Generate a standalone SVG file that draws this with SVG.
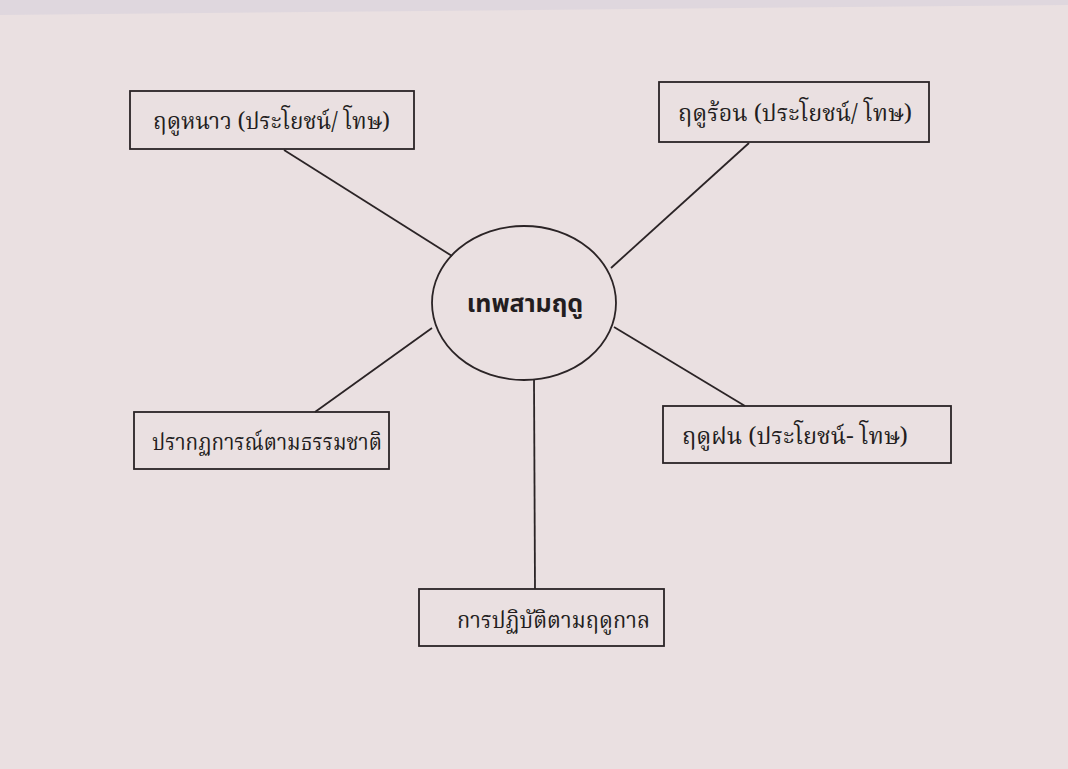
<svg xmlns="http://www.w3.org/2000/svg" width="1068" height="769" viewBox="0 0 1068 769">
<style>
.box{fill:none;stroke:#2b2426;stroke-width:1.8}
.ln{stroke:#2b2426;stroke-width:1.8;fill:none}
.t{font-family:"Noto Serif Thai","Noto Sans Thai","Liberation Serif",serif;font-size:23px;fill:#231d20}
.c{font-family:"Noto Sans Thai","Noto Sans","Liberation Sans",sans-serif;font-size:25px;font-weight:bold;fill:#231d20}
</style>
<rect width="1068" height="769" fill="#eae0e1"/>
<path d="M0 0H1068V5L0 15Z" fill="#dfd7de"/>
<g id="connectors">
<line class="ln" x1="284" y1="150" x2="452" y2="256"/>
<line class="ln" x1="749" y1="143" x2="611" y2="268"/>
<line class="ln" x1="432" y1="328" x2="315" y2="412"/>
<line class="ln" x1="614" y1="327" x2="745" y2="406"/>
<line class="ln" x1="534" y1="379" x2="535" y2="589"/>
</g>
<g id="center">
<ellipse class="box" cx="524" cy="303" rx="92" ry="77"/>
<text class="c" x="525" y="312" text-anchor="middle">เทพสามฤดู</text>
</g>
<g id="winter">
<rect class="box" x="130" y="91" width="284" height="58"/>
<text class="t" x="153" y="129" textLength="237" lengthAdjust="spacingAndGlyphs">ฤดูหนาว (ประโยชน์/ โทษ)</text>
</g>
<g id="summer">
<rect class="box" x="659" y="82" width="270" height="60"/>
<text class="t" x="678" y="121" textLength="234" lengthAdjust="spacingAndGlyphs">ฤดูร้อน (ประโยชน์/ โทษ)</text>
</g>
<g id="nature">
<rect class="box" x="134" y="412" width="255" height="57"/>
<text class="t" x="152" y="450" textLength="230" lengthAdjust="spacingAndGlyphs">ปรากฏการณ์ตามธรรมชาติ</text>
</g>
<g id="rainy">
<rect class="box" x="663" y="406" width="288" height="57"/>
<text class="t" x="682" y="444" textLength="226" lengthAdjust="spacingAndGlyphs">ฤดูฝน (ประโยชน์- โทษ)</text>
</g>
<g id="practice">
<rect class="box" x="419" y="589" width="245" height="57"/>
<text class="t" x="457" y="628" textLength="193" lengthAdjust="spacingAndGlyphs">การปฏิบัติตามฤดูกาล</text>
</g>
</svg>
